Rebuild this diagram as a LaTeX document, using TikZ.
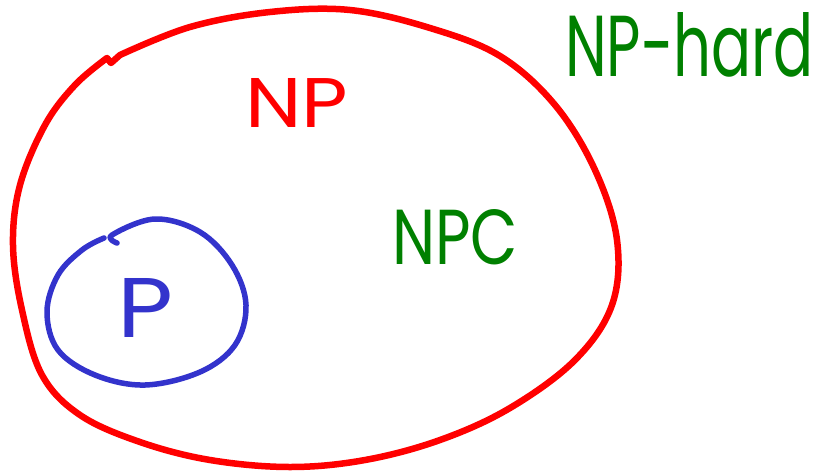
\documentclass[tikz,border=0pt]{standalone}
\usepackage{fontspec}
\usepackage{graphicx}
\newfontfamily\handfont{Poppins}
\definecolor{setred}{RGB}{255,0,0}
\definecolor{setgreen}{RGB}{0,128,0}
\definecolor{setblue}{RGB}{51,51,204}
\begin{document}
\begin{tikzpicture}[x=1pt,y=-1pt,
  setline/.style={line width=#1, line cap=round, line join=round},
  lbl/.style={inner sep=0pt, outer sep=0pt, anchor=south west, font=\handfont}]
\useasboundingbox (0,0) rectangle (824,472);
% NP: the large red set
\draw[setline=6.5pt, setred] plot[smooth, tension=0.6] coordinates {
  (120,55) (190,27) (270,12) (350,10) (430,28) (500,56) (555,105)
  (595,170) (617,240) (612,305) (575,360) (510,408) (440,440) (365,460)
  (290,467) (210,460) (140,442) (80,415) (42,375) (22,310) (13,245)
  (20,185) (45,125) (75,85) (107,58)}
  -- (111,63) -- (120,55);
% P: the small blue set inside NP
\draw[setline=5.5pt, setblue] plot[smooth, tension=0.6] coordinates {
  (117,243) (112,235) (155,219) (200,232) (232,265) (246,305) (235,345)
  (200,372) (145,385) (95,375) (58,350) (47,312) (58,275) (82,250)
  (104,238)};
% labels
\node[lbl, text=setred] (np) at (245,127) {\resizebox{103pt}{49pt}{NP}};
\node[lbl, text=setblue] (p) at (117,337) {\resizebox{56pt}{59pt}{P}};
\node[lbl, text=setgreen] (npc) at (392,265) {\resizebox{126pt}{55pt}{NPC}};
\node[lbl, text=setgreen] (nphard) at (565,77) {\resizebox{249pt}{64pt}{NP-hard}};
\end{tikzpicture}
\end{document}
